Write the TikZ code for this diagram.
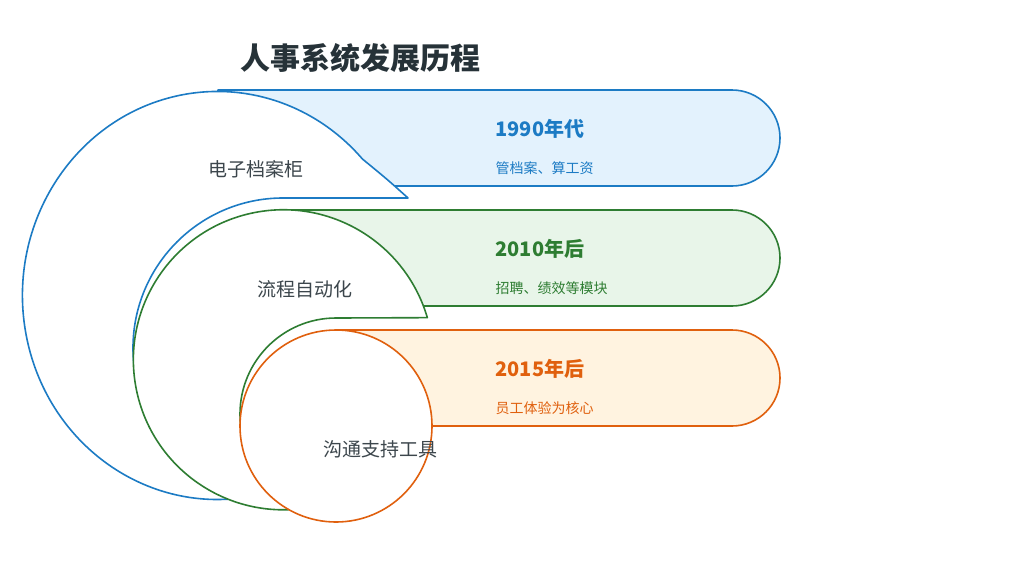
\documentclass[tikz,border=0pt]{standalone}
\usepackage{fontspec}
\setmainfont{Noto Sans CJK SC}
\definecolor{blueline}{HTML}{1C7BC4}
\definecolor{bluefill}{HTML}{E3F2FD}
\definecolor{greenline}{HTML}{2E7D32}
\definecolor{greenfill}{HTML}{E8F5E9}
\definecolor{orangeline}{HTML}{E0600E}
\definecolor{orangefill}{HTML}{FFF3E0}
\definecolor{titlecol}{HTML}{263238}
\begin{document}
\begin{tikzpicture}[x=1pt,y=-1pt,
  edge/.style = {line width=1.6pt, line join=round},
  era/.style = {anchor=west, font=\fontsize{20}{24}\selectfont\bfseries},
  note/.style = {anchor=west, font=\fontsize{14}{17}\selectfont},
  label/.style = {font=\fontsize{19}{23}\selectfont, text=titlecol!90}]
\useasboundingbox (0,0) rectangle (1024,576);

\node[font=\fontsize{30}{36}\selectfont\bfseries, text=titlecol] (title) at (360,58) {人事系统发展历程};

% blue stage
\draw[edge, blueline, fill=bluefill] (218,90) -- (732,90) arc[start angle=-90, end angle=90, radius=48] -- (218,186) -- cycle;
\draw[edge, blueline, fill=white] (258,495) arc[start angle=78, end angle=318, x radius=195, y radius=204]
  .. controls (388,180) .. (408,198) -- (283,198) arc[start angle=270, end angle=100, radius=150] -- cycle;
\node[label] (l1) at (256,169) {电子档案柜};
\node[era, text=blueline] (e1) at (492,129) {1990年代};
\node[note, text=blueline] (n1) at (492,168) {管档案、算工资};

% green stage
\draw[edge, greenline, fill=greenfill] (283,210) -- (732,210) arc[start angle=-90, end angle=90, radius=48] -- (283,306) -- cycle;
\draw[edge, greenline, fill=white] (312,507) arc[start angle=79, end angle=343.7, radius=150]
  -- (336,318) arc[start angle=270, end angle=104.5, radius=96] -- cycle;
\node[label] (l2) at (305,289) {流程自动化};
\node[era, text=greenline] (e2) at (492,249) {2010年后};
\node[note, text=greenline] (n2) at (492,288) {招聘、绩效等模块};

% orange stage
\draw[edge, orangeline, fill=orangefill] (336,330) -- (732,330) arc[start angle=-90, end angle=90, radius=48] -- (336,426) -- cycle;
\draw[edge, orangeline, fill=white] (336,426) circle[radius=96];
\node[label] (l3) at (380,449) {沟通支持工具};
\node[era, text=orangeline] (e3) at (492,369) {2015年后};
\node[note, text=orangeline] (n3) at (492,408) {员工体验为核心};
\end{tikzpicture}
\end{document}
